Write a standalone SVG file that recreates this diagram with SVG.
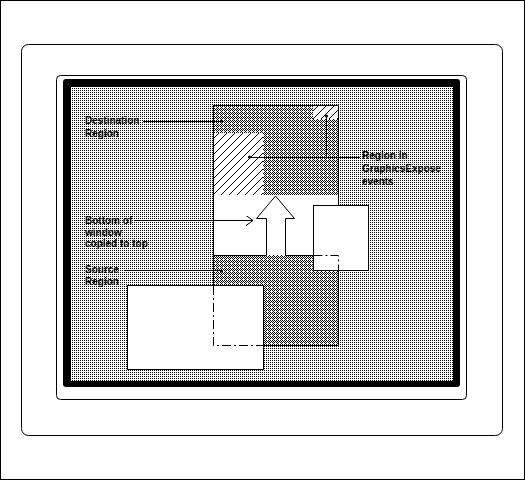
<svg xmlns="http://www.w3.org/2000/svg" width="526" height="481" viewBox="0 0 526 481">
<defs>
<pattern id="dots" width="2" height="2" patternUnits="userSpaceOnUse"><rect width="2" height="2" fill="#fff"/><rect width="1" height="1" fill="#000"/></pattern>
<pattern id="checker" width="4" height="4" patternUnits="userSpaceOnUse"><rect width="4" height="4" fill="#fff"/><path d="M0,0h1v1h-1z M2,0h1v1h-1z M1,1h1v1h-1z M3,1h1v1h-1z M0,2h1v1h-1z M2,2h1v1h-1z M1,3h1v1h-1z" fill="#000"/></pattern>
<pattern id="hatch" width="8" height="8" patternUnits="userSpaceOnUse"><rect width="8" height="8" fill="#fff"/><path d="M0,8 L8,0" stroke="#000" stroke-width="1"/></pattern>
<marker id="open" markerWidth="8" markerHeight="10" refX="7" refY="5" orient="auto" markerUnits="userSpaceOnUse"><path d="M0,0 L7,5 L0,10" fill="none" stroke="#000" stroke-width="1"/></marker>
</defs>
<style>
.ln{fill:none;stroke:#000;stroke-width:1}
.dd{fill:none;stroke:#000;stroke-width:1;stroke-dasharray:9,3,2,3}
.box{fill:#fff;stroke:#000;stroke-width:1}
.t{font-family:"Liberation Sans",Arial,sans-serif;font-size:10px;font-weight:bold;fill:#000}
</style>
<g id="frame">
<rect x="0.5" y="0.5" width="524" height="479" fill="#fff" stroke="#000"/>
<rect x="21.5" y="44.5" width="481" height="391" rx="7" fill="#fff" stroke="#000"/>
<rect x="56.5" y="75.5" width="410" height="324" rx="4" fill="#fff" stroke="#000"/>
<rect x="63" y="79" width="397" height="308" rx="3" fill="#000"/>
<rect x="71" y="87" width="382" height="294" fill="url(#dots)"/>
</g>
<g id="window">
<rect x="213" y="105" width="125" height="90" fill="url(#checker)"/>
<rect x="213" y="195" width="125" height="60" fill="#fff"/>
<rect x="213" y="255" width="125" height="90" fill="url(#checker)"/>
<rect x="214" y="133" width="49" height="62" fill="url(#hatch)"/>
<rect x="313" y="106" width="25" height="13" fill="url(#hatch)"/>
<path class="ln" d="M213.5,285 V105.5 H338.5 V205"/>
<path class="ln" d="M338.5,270 V345.5 H263"/>
<path class="ln" d="M213,255.5 H266.5 V218.5 H256.5 L275.5,196 L294.5,218.5 H285.5 V255.5 H313"/>
</g>
<g id="obscuring-right">
<rect class="box" x="313.5" y="205.5" width="55" height="65"/>
<path class="dd" d="M313.5,255.5 H338.5 V270"/>
</g>
<g id="obscuring-bottom">
<rect class="box" x="127.5" y="285.5" width="136" height="84"/>
<path class="dd" d="M213.5,286 V345.5 H263"/>
</g>
<g id="connectors">
<path class="ln" d="M143,121.5 H221"/>
<circle cx="221.5" cy="121" r="1.6"/>
<path class="ln" d="M249,157.5 H360 M326.5,157 V116"/>
<circle cx="249.5" cy="157" r="1.6"/>
<circle cx="326.5" cy="116" r="1.6"/>
<path class="ln" d="M135,220.5 H253" marker-end="url(#open)"/>
<path class="ln" d="M124,270.5 H221"/>
<circle cx="221.5" cy="271" r="1.6"/>
</g>
<g id="labels">
<text class="t" x="85" y="124">Destination</text>
<text class="t" x="85" y="137">Region</text>
<text class="t" x="362" y="159">Region in</text>
<text class="t" x="362" y="172">GraphicsExpose</text>
<text class="t" x="362" y="185">events</text>
<text class="t" x="85" y="224">Bottom of</text>
<text class="t" x="85" y="236">window</text>
<text class="t" x="85" y="247">copied to top</text>
<text class="t" x="85" y="273">Source</text>
<text class="t" x="85" y="285">Region</text>
</g>
</svg>
